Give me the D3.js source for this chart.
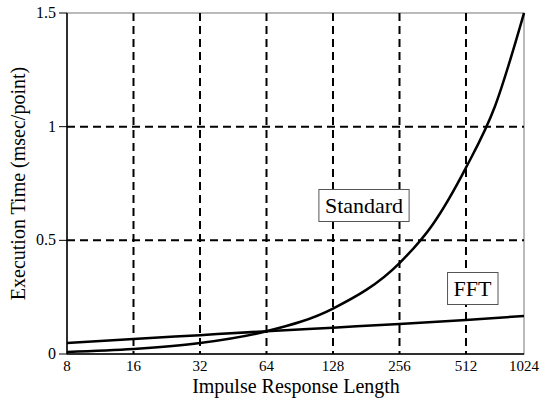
<!DOCTYPE html>
<html>
<head>
<meta charset="utf-8">
<script src="https://cdn.jsdelivr.net/npm/d3@7"></script>
<style>
  body { margin: 0; background: #fff; }
</style>
</head>
<body>
<svg width="545" height="400"></svg>
<script>
// impulse response lengths (log2 axis)
var lengths = [8, 16, 32, 64, 128, 256, 512, 1024];
var yTicks = [0, 0.5, 1, 1.5];
var yTickLabels = ["0", "0.5", "1", "1.5"];

// execution time, msec per point
var stdLen  = [8, 16, 32, 64, 128, 256, 362, 512, 724, 1024];
var stdTime = [0.009, 0.022, 0.048, 0.10, 0.20, 0.40, 0.57, 0.82, 1.09, 1.5];
var fftLen  = [8, 16, 32, 64, 128, 256, 512, 1024];
var fftTime = [0.048, 0.066, 0.083, 0.10, 0.116, 0.132, 0.15, 0.167];

var FONT = "'Liberation Serif'";
var svg = d3.select("svg");
var pLeft = 67, pRight = 524, pTop = 13, pBottom = 354;

// the last octave in the original is a little shorter than the others
var x = d3.scaleLog().base(2)
  .domain([8, 512, 1024])
  .range([pLeft, 466, pRight]);
var y = d3.scaleLinear().domain([0, 1.5]).range([pBottom, pTop]);

// frame
svg.append("rect")
  .attr("x", pLeft).attr("y", pTop)
  .attr("width", pRight - pLeft).attr("height", pBottom - pTop)
  .attr("fill", "none").attr("stroke", "#777").attr("stroke-width", 1);

// dashed grid
svg.selectAll("line.vgrid")
  .data(lengths.slice(1, -1))
  .enter().append("line")
  .attr("class", "vgrid")
  .attr("x1", function(d) { return x(d); }).attr("x2", function(d) { return x(d); })
  .attr("y1", pTop).attr("y2", pBottom)
  .attr("stroke", "#000").attr("stroke-width", 2).attr("stroke-dasharray", "8,5");

svg.selectAll("line.hgrid")
  .data(yTicks.slice(1, -1))
  .enter().append("line")
  .attr("class", "hgrid")
  .attr("x1", pLeft).attr("x2", pRight)
  .attr("y1", function(d) { return y(d); }).attr("y2", function(d) { return y(d); })
  .attr("stroke", "#000").attr("stroke-width", 2).attr("stroke-dasharray", "8,5");

// axes lines
svg.append("line").attr("x1", pLeft).attr("x2", pLeft).attr("y1", pTop).attr("y2", pBottom)
  .attr("stroke", "#000").attr("stroke-width", 1.5);
svg.append("line").attr("x1", pLeft).attr("x2", pRight).attr("y1", pBottom).attr("y2", pBottom)
  .attr("stroke", "#000").attr("stroke-width", 1.5);

// y ticks + labels
svg.selectAll("line.ytick")
  .data(yTicks)
  .enter().append("line")
  .attr("class", "ytick")
  .attr("x1", pLeft - 8).attr("x2", pLeft)
  .attr("y1", function(d) { return y(d); }).attr("y2", function(d) { return y(d); })
  .attr("stroke", "#000").attr("stroke-width", 1);

svg.selectAll("text.ylab")
  .data(yTicks)
  .enter().append("text")
  .attr("class", "ylab")
  .attr("x", pLeft - 11)
  .attr("y", function(d) { return y(d) + 5; })
  .attr("text-anchor", "end")
  .style("font-family", FONT)
  .style("font-size", "16px")
  .text(function(d, i) { return yTickLabels[i]; });

// x labels
svg.selectAll("text.xlab")
  .data(lengths)
  .enter().append("text")
  .attr("class", "xlab")
  .attr("x", function(d) { return x(d); })
  .attr("y", pBottom + 17)
  .attr("text-anchor", "middle")
  .style("font-family", FONT)
  .style("font-size", "15px")
  .text(function(d) { return d; });

// axis titles
svg.append("text")
  .attr("x", 296).attr("y", 393)
  .attr("text-anchor", "middle")
  .style("font-family", FONT)
  .style("font-size", "20px")
  .text("Impulse Response Length");

svg.append("text")
  .attr("transform", "translate(25," + ((pTop + pBottom) / 2) + ") rotate(-90)")
  .attr("text-anchor", "middle")
  .style("font-family", FONT)
  .style("font-size", "20px")
  .text("Execution Time (msec/point)");

// curves
var line = d3.line()
  .x(function(d) { return x(d[0]); })
  .y(function(d) { return y(d[1]); })
  .curve(d3.curveMonotoneX);

svg.append("path")
  .datum(d3.zip(stdLen, stdTime))
  .attr("d", line)
  .attr("fill", "none").attr("stroke", "#000").attr("stroke-width", 2.5);

svg.append("path")
  .datum(d3.zip(fftLen, fftTime))
  .attr("d", line)
  .attr("fill", "none").attr("stroke", "#000").attr("stroke-width", 2.5);

// labels in boxes
function boxLabel(txt, cx, cy) {
  var g = svg.append("g");
  var t = g.append("text")
    .attr("x", cx).attr("y", cy + 7)
    .attr("text-anchor", "middle")
    .style("font-family", FONT)
    .style("font-size", "22px")
    .text(txt);
  var bb = t.node().getBBox();
  g.insert("rect", "text")
    .attr("x", bb.x - 6).attr("y", cy - 16)
    .attr("width", bb.width + 12).attr("height", 32)
    .attr("fill", "#fff").attr("stroke", "#555").attr("stroke-width", 1);
}
boxLabel("Standard", 364, 205.5);
boxLabel("FFT", 472.5, 288.5);
</script>
</body>
</html>
